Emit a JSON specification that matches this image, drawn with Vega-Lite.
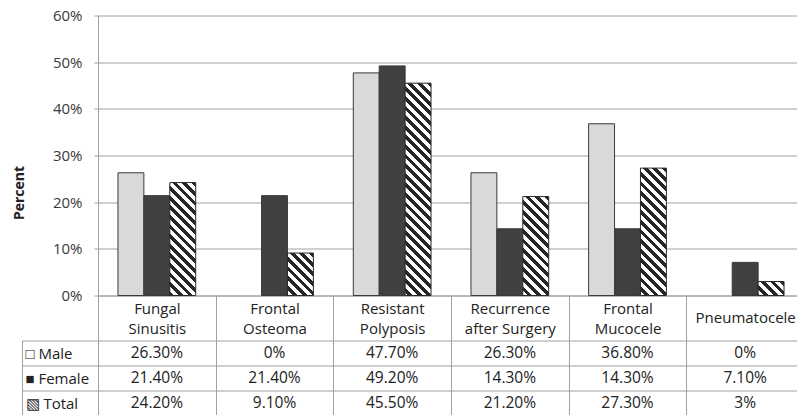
{
  "$schema": "https://vega.github.io/schema/vega-lite/v6.json",
  "background": "white",
  "padding": {"left": 12, "top": 8.5, "right": 0, "bottom": 0},
  "bounds": "flush",
  "spacing": 45,
  "config": {"font": "Open Sans", "view": {"stroke": null}},
  "params": [
    {"name": "hatch", "value": [
      {"offset":0,"color":"#262626"},{"offset":0.02,"color":"#262626"},{"offset":0.02,"color":"#ffffff"},{"offset":0.04,"color":"#ffffff"},
      {"offset":0.04,"color":"#262626"},{"offset":0.06,"color":"#262626"},{"offset":0.06,"color":"#ffffff"},{"offset":0.08,"color":"#ffffff"},
      {"offset":0.08,"color":"#262626"},{"offset":0.10,"color":"#262626"},{"offset":0.10,"color":"#ffffff"},{"offset":0.12,"color":"#ffffff"},
      {"offset":0.12,"color":"#262626"},{"offset":0.14,"color":"#262626"},{"offset":0.14,"color":"#ffffff"},{"offset":0.16,"color":"#ffffff"},
      {"offset":0.16,"color":"#262626"},{"offset":0.18,"color":"#262626"},{"offset":0.18,"color":"#ffffff"},{"offset":0.20,"color":"#ffffff"},
      {"offset":0.20,"color":"#262626"},{"offset":0.22,"color":"#262626"},{"offset":0.22,"color":"#ffffff"},{"offset":0.24,"color":"#ffffff"},
      {"offset":0.24,"color":"#262626"},{"offset":0.26,"color":"#262626"},{"offset":0.26,"color":"#ffffff"},{"offset":0.28,"color":"#ffffff"},
      {"offset":0.28,"color":"#262626"},{"offset":0.30,"color":"#262626"},{"offset":0.30,"color":"#ffffff"},{"offset":0.32,"color":"#ffffff"},
      {"offset":0.32,"color":"#262626"},{"offset":0.34,"color":"#262626"},{"offset":0.34,"color":"#ffffff"},{"offset":0.36,"color":"#ffffff"},
      {"offset":0.36,"color":"#262626"},{"offset":0.38,"color":"#262626"},{"offset":0.38,"color":"#ffffff"},{"offset":0.40,"color":"#ffffff"},
      {"offset":0.40,"color":"#262626"},{"offset":0.42,"color":"#262626"},{"offset":0.42,"color":"#ffffff"},{"offset":0.44,"color":"#ffffff"},
      {"offset":0.44,"color":"#262626"},{"offset":0.46,"color":"#262626"},{"offset":0.46,"color":"#ffffff"},{"offset":0.48,"color":"#ffffff"},
      {"offset":0.48,"color":"#262626"},{"offset":0.50,"color":"#262626"},{"offset":0.50,"color":"#ffffff"},{"offset":0.52,"color":"#ffffff"},
      {"offset":0.52,"color":"#262626"},{"offset":0.54,"color":"#262626"},{"offset":0.54,"color":"#ffffff"},{"offset":0.56,"color":"#ffffff"},
      {"offset":0.56,"color":"#262626"},{"offset":0.58,"color":"#262626"},{"offset":0.58,"color":"#ffffff"},{"offset":0.60,"color":"#ffffff"},
      {"offset":0.60,"color":"#262626"},{"offset":0.62,"color":"#262626"},{"offset":0.62,"color":"#ffffff"},{"offset":0.64,"color":"#ffffff"},
      {"offset":0.64,"color":"#262626"},{"offset":0.66,"color":"#262626"},{"offset":0.66,"color":"#ffffff"},{"offset":0.68,"color":"#ffffff"},
      {"offset":0.68,"color":"#262626"},{"offset":0.70,"color":"#262626"},{"offset":0.70,"color":"#ffffff"},{"offset":0.72,"color":"#ffffff"},
      {"offset":0.72,"color":"#262626"},{"offset":0.74,"color":"#262626"},{"offset":0.74,"color":"#ffffff"},{"offset":0.76,"color":"#ffffff"},
      {"offset":0.76,"color":"#262626"},{"offset":0.78,"color":"#262626"},{"offset":0.78,"color":"#ffffff"},{"offset":0.80,"color":"#ffffff"},
      {"offset":0.80,"color":"#262626"},{"offset":0.82,"color":"#262626"},{"offset":0.82,"color":"#ffffff"},{"offset":0.84,"color":"#ffffff"},
      {"offset":0.84,"color":"#262626"},{"offset":0.86,"color":"#262626"},{"offset":0.86,"color":"#ffffff"},{"offset":0.88,"color":"#ffffff"},
      {"offset":0.88,"color":"#262626"},{"offset":0.90,"color":"#262626"},{"offset":0.90,"color":"#ffffff"},{"offset":0.92,"color":"#ffffff"},
      {"offset":0.92,"color":"#262626"},{"offset":0.94,"color":"#262626"},{"offset":0.94,"color":"#ffffff"},{"offset":0.96,"color":"#ffffff"},
      {"offset":0.96,"color":"#262626"},{"offset":0.98,"color":"#262626"},{"offset":0.98,"color":"#ffffff"},{"offset":1,"color":"#ffffff"}
    ]}
  ],
  "datasets": {
    "d": [
      {"cat": "Fungal Sinusitis", "series": "Male", "value": 26.3, "label": "26.30%"},
      {"cat": "Fungal Sinusitis", "series": "Female", "value": 21.4, "label": "21.40%"},
      {"cat": "Fungal Sinusitis", "series": "Total", "value": 24.2, "label": "24.20%"},
      {"cat": "Frontal Osteoma", "series": "Male", "value": 0, "label": "0%"},
      {"cat": "Frontal Osteoma", "series": "Female", "value": 21.4, "label": "21.40%"},
      {"cat": "Frontal Osteoma", "series": "Total", "value": 9.1, "label": "9.10%"},
      {"cat": "Resistant Polyposis", "series": "Male", "value": 47.7, "label": "47.70%"},
      {"cat": "Resistant Polyposis", "series": "Female", "value": 49.2, "label": "49.20%"},
      {"cat": "Resistant Polyposis", "series": "Total", "value": 45.5, "label": "45.50%"},
      {"cat": "Recurrence after Surgery", "series": "Male", "value": 26.3, "label": "26.30%"},
      {"cat": "Recurrence after Surgery", "series": "Female", "value": 14.3, "label": "14.30%"},
      {"cat": "Recurrence after Surgery", "series": "Total", "value": 21.2, "label": "21.20%"},
      {"cat": "Frontal Mucocele", "series": "Male", "value": 36.8, "label": "36.80%"},
      {"cat": "Frontal Mucocele", "series": "Female", "value": 14.3, "label": "14.30%"},
      {"cat": "Frontal Mucocele", "series": "Total", "value": 27.3, "label": "27.30%"},
      {"cat": "Pneumatocele", "series": "Male", "value": 0, "label": "0%"},
      {"cat": "Pneumatocele", "series": "Female", "value": 7.1, "label": "7.10%"},
      {"cat": "Pneumatocele", "series": "Total", "value": 3, "label": "3%"}
    ]
  },
  "data": {"name": "d"},
  "vconcat": [
    {
      "width": 706,
      "height": 280,
      "layer": [
        {
          "transform": [{"filter": "datum.series !== 'Total' && datum.value > 0"}],
          "mark": {"type": "bar", "stroke": "#3a3a3a", "strokeWidth": 1},
          "encoding": {
            "x": {
              "field": "cat", "type": "nominal", "sort": null,
              "scale": {"domain": ["Fungal Sinusitis", "Frontal Osteoma", "Resistant Polyposis", "Recurrence after Surgery", "Frontal Mucocele", "Pneumatocele"], "paddingInner": 0, "paddingOuter": 0},
              "axis": {
                "title": null, "grid": false, "labelAngle": 0,
                "domainColor": "#a0a0a0", "tickColor": "#a0a0a0", "tickBand": "extent", "tickSize": 45,
                "labelExpr": "!isValid(datum.value) ? '' : datum.value === 'Recurrence after Surgery' ? ['Recurrence', 'after Surgery'] : datum.value === 'Pneumatocele' ? 'Pneumatocele' : split(datum.value, ' ')",
                "labelBaseline": "middle",
                "labelPadding": {"condition": {"test": "datum.value === 'Pneumatocele'", "value": -23}, "value": -32},
                "labelFontSize": 15, "labelLineHeight": 20,
                "labelColor": "#222222", "labelLimit": 300, "labelOverlap": false
              }
            },
            "xOffset": {"field": "series", "type": "nominal", "scale": {"domain": ["Male", "Female", "Total"], "paddingInner": 0, "paddingOuter": 0.77}},
            "y": {
              "field": "value", "type": "quantitative",
              "scale": {"domain": [0, 60], "nice": false},
              "axis": {
                "values": [0, 10, 20, 30, 40, 50, 60],
                "labelExpr": "datum.value + '%'",
                "grid": true, "gridColor": "#a0a0a0", "domainColor": "#a0a0a0", "tickColor": "#a0a0a0",
                "tickSize": 4, "labelPadding": 12, "labelFontSize": 15, "labelColor": "#3a3a3a",
                "title": "Percent", "titleFontSize": 14, "titleFontWeight": "bold", "titleColor": "#222222",
                "titleX": -79, "titleY": 177, "titleAngle": -90, "titleAlign": "center", "titleBaseline": "middle"
              }
            },
            "fill": {"field": "series", "type": "nominal", "scale": {"domain": ["Male", "Female"], "range": ["#d9d9d9", "#404040"]}, "legend": null}
          }
        },
        {
          "transform": [{"filter": "datum.series === 'Total' && datum.value > 0"}],
          "mark": {"type": "bar", "stroke": "#2a2a2a", "strokeWidth": 1},
          "encoding": {
            "x": {"field": "cat", "type": "nominal", "sort": null},
            "xOffset": {"field": "series", "type": "nominal"},
            "y": {"field": "value", "type": "quantitative"},
            "fill": {"value": {"expr": "{gradient: 'linear', x1: 1, y1: 0, x2: 1 - 240 * 25.92 / (671.8 + pow(datum.value * 4.6667, 2)), y2: 240 * datum.value * 4.6667 / (671.8 + pow(datum.value * 4.6667, 2)), stops: hatch}"}}
          }
        }
      ]
    },
    {
      "width": 706,
      "height": 75,
      "mark": {"type": "text", "fontSize": 15.5, "color": "#222222"},
      "encoding": {
        "x": {
          "field": "cat", "type": "nominal", "sort": null,
          "scale": {"domain": ["Fungal Sinusitis", "Frontal Osteoma", "Resistant Polyposis", "Recurrence after Surgery", "Frontal Mucocele", "Pneumatocele"], "paddingInner": 0, "paddingOuter": 0},
          "axis": {"title": null, "labels": false, "ticks": false, "domain": false, "grid": true, "tickBand": "extent", "gridColor": "#a0a0a0"}
        },
        "y": {
          "field": "series", "type": "nominal",
          "scale": {"domain": ["Male", "Female", "Total"], "paddingInner": 0, "paddingOuter": 0},
          "axis": {
            "title": null, "offset": 76, "domain": true, "domainColor": "#a0a0a0",
            "ticks": true, "tickSize": -76, "tickBand": "extent", "tickColor": "#a0a0a0",
            "grid": true, "gridColor": "#a0a0a0",
            "labelAlign": "left", "labelPadding": 73, "labelFontSize": 15, "labelColor": "#222222",
            "labelExpr": "!isValid(datum.value) ? '' : datum.value === 'Male' ? '□ Male' : datum.value === 'Female' ? '■ Female' : '▧ Total'"
          }
        },
        "text": {"field": "label"}
      }
    }
  ]
}
